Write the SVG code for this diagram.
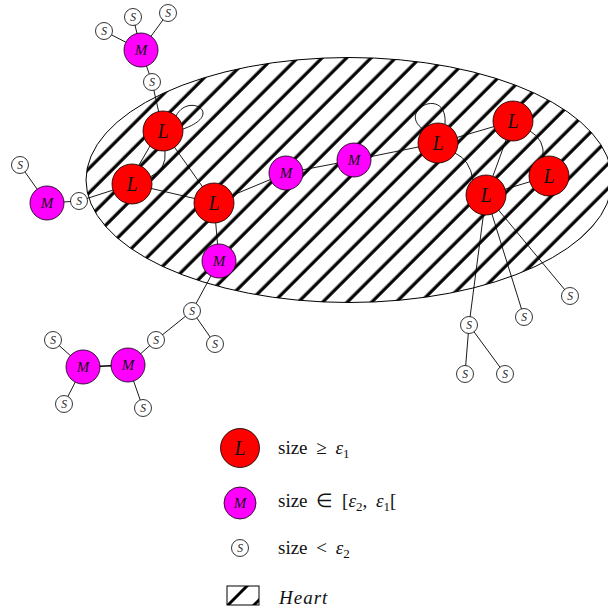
<svg xmlns="http://www.w3.org/2000/svg" width="608" height="612" viewBox="0 0 608 612">
<style>
.L{fill:#ff0000;stroke:#000;stroke-width:0.8}
.M{fill:#ff00ff;stroke:#000;stroke-width:0.8}
.S{fill:#fff;stroke:#000;stroke-width:0.8}
.e{fill:none;stroke:#000;stroke-width:0.9}
.tL{font-family:"Liberation Serif",serif;font-style:italic;font-size:20px;text-anchor:middle;fill:#111}
.tM{font-family:"Liberation Serif",serif;font-style:italic;font-size:15px;text-anchor:middle;fill:#111}
.tS{font-family:"Liberation Serif",serif;font-style:italic;font-size:11.5px;text-anchor:middle;fill:#222}
.leg{font-family:"Liberation Serif",serif;font-size:19px;fill:#111;word-spacing:4px}
</style>
<defs>
<pattern id="hatch" patternUnits="userSpaceOnUse" width="17.32" height="10" patternTransform="rotate(45)">
<rect x="7.24" y="0" width="3.2" height="10" fill="#000"/>
</pattern>
<clipPath id="boxclip"><rect x="227" y="586" width="32" height="19"/></clipPath>
</defs>
<g id="heart">
<ellipse cx="349" cy="180" rx="263" ry="122.5" fill="url(#hatch)" stroke="#000" stroke-width="1"/>
</g>
<g id="edges" class="e">
<line x1="141" y1="50" x2="104" y2="31"/>
<line x1="141" y1="50" x2="133" y2="17"/>
<line x1="141" y1="50" x2="168" y2="13"/>
<line x1="141" y1="50" x2="152" y2="82"/>
<line x1="152" y1="82" x2="163" y2="131"/>
<path d="M176,116 C188,92 226,114 183,129"/>
<line x1="150" y1="146" x2="139" y2="165"/>
<path d="M165,151 Q167,170 150,177"/>
<line x1="163" y1="131" x2="214" y2="203"/>
<line x1="132" y1="184" x2="214" y2="203"/>
<line x1="132" y1="184" x2="79" y2="201"/>
<line x1="79" y1="201" x2="47" y2="203"/>
<line x1="47" y1="203" x2="20" y2="165"/>
<line x1="214" y1="203" x2="286" y2="173"/>
<line x1="214" y1="203" x2="219" y2="261"/>
<line x1="286" y1="173" x2="354" y2="160"/>
<line x1="354" y1="160" x2="438" y2="143"/>
<path d="M424,130 C395,110 448,85 445,124"/>
<line x1="438" y1="143" x2="513" y2="121"/>
<path d="M455,153 Q470,160 473,180"/>
<line x1="513" y1="121" x2="486" y2="195"/>
<path d="M530,131 Q545,140 543,157"/>
<line x1="486" y1="195" x2="549" y2="176"/>
<line x1="486" y1="195" x2="469" y2="325"/>
<line x1="486" y1="195" x2="524" y2="317"/>
<line x1="486" y1="195" x2="570" y2="296"/>
<line x1="469" y1="325" x2="465" y2="374"/>
<line x1="469" y1="325" x2="505" y2="374"/>
<line x1="219" y1="261" x2="192" y2="311"/>
<line x1="192" y1="311" x2="215" y2="344"/>
<line x1="192" y1="311" x2="156" y2="340"/>
<line x1="156" y1="340" x2="128" y2="365"/>
<line x1="128" y1="365" x2="83" y2="367" stroke-width="1.6"/>
<line x1="128" y1="365" x2="143" y2="408"/>
<line x1="83" y1="367" x2="53" y2="340"/>
<line x1="83" y1="367" x2="64" y2="404"/>
</g>
<g id="L1"><circle class="L" cx="163" cy="131" r="20"/><text class="tL" x="163" y="138">L</text></g>
<g id="L2"><circle class="L" cx="132" cy="184" r="20"/><text class="tL" x="132" y="191">L</text></g>
<g id="L3"><circle class="L" cx="214" cy="203" r="20"/><text class="tL" x="214" y="210">L</text></g>
<g id="L4"><circle class="L" cx="438" cy="143" r="20"/><text class="tL" x="438" y="150">L</text></g>
<g id="L5"><circle class="L" cx="513" cy="121" r="20"/><text class="tL" x="513" y="128">L</text></g>
<g id="L6"><circle class="L" cx="486" cy="195" r="20"/><text class="tL" x="486" y="202">L</text></g>
<g id="L7"><circle class="L" cx="549" cy="176" r="20"/><text class="tL" x="549" y="183">L</text></g>
<g id="M1"><circle class="M" cx="141" cy="50" r="17"/><text class="tM" x="141" y="55">M</text></g>
<g id="M2"><circle class="M" cx="47" cy="203" r="17"/><text class="tM" x="47" y="208">M</text></g>
<g id="M3"><circle class="M" cx="219" cy="261" r="17"/><text class="tM" x="219" y="266">M</text></g>
<g id="M4"><circle class="M" cx="286" cy="173" r="17"/><text class="tM" x="286" y="178">M</text></g>
<g id="M5"><circle class="M" cx="354" cy="160" r="17"/><text class="tM" x="354" y="165">M</text></g>
<g id="M6"><circle class="M" cx="83" cy="367" r="17"/><text class="tM" x="83" y="372">M</text></g>
<g id="M7"><circle class="M" cx="128" cy="365" r="17"/><text class="tM" x="128" y="370">M</text></g>
<g id="S1"><circle class="S" cx="104" cy="31" r="8.5"/><text class="tS" x="104" y="35">S</text></g>
<g id="S2"><circle class="S" cx="133" cy="17" r="8.5"/><text class="tS" x="133" y="21">S</text></g>
<g id="S3"><circle class="S" cx="168" cy="13" r="8.5"/><text class="tS" x="168" y="17">S</text></g>
<g id="S4"><circle class="S" cx="152" cy="82" r="8.5"/><text class="tS" x="152" y="86">S</text></g>
<g id="S5"><circle class="S" cx="20" cy="165" r="8.5"/><text class="tS" x="20" y="169">S</text></g>
<g id="S6"><circle class="S" cx="79" cy="201" r="8.5"/><text class="tS" x="79" y="205">S</text></g>
<g id="S7"><circle class="S" cx="192" cy="311" r="8.5"/><text class="tS" x="192" y="315">S</text></g>
<g id="S8"><circle class="S" cx="215" cy="344" r="8.5"/><text class="tS" x="215" y="348">S</text></g>
<g id="S9"><circle class="S" cx="156" cy="340" r="8.5"/><text class="tS" x="156" y="344">S</text></g>
<g id="S10"><circle class="S" cx="53" cy="340" r="8.5"/><text class="tS" x="53" y="344">S</text></g>
<g id="S11"><circle class="S" cx="64" cy="404" r="8.5"/><text class="tS" x="64" y="408">S</text></g>
<g id="S12"><circle class="S" cx="143" cy="408" r="8.5"/><text class="tS" x="143" y="412">S</text></g>
<g id="S13"><circle class="S" cx="570" cy="296" r="8.5"/><text class="tS" x="570" y="300">S</text></g>
<g id="S14"><circle class="S" cx="524" cy="317" r="8.5"/><text class="tS" x="524" y="321">S</text></g>
<g id="S15"><circle class="S" cx="469" cy="325" r="8.5"/><text class="tS" x="469" y="329">S</text></g>
<g id="S16"><circle class="S" cx="465" cy="374" r="8.5"/><text class="tS" x="465" y="378">S</text></g>
<g id="S17"><circle class="S" cx="505" cy="374" r="8.5"/><text class="tS" x="505" y="378">S</text></g>
<g id="legend">
<circle class="L" cx="240" cy="448" r="19.5"/><text class="tL" x="240" y="455">L</text>
<text class="leg" x="278" y="454">size ≥ <tspan font-style="italic">ε</tspan><tspan font-size="13" dy="4">1</tspan></text>
<circle class="M" cx="240" cy="503" r="16"/><text class="tM" x="240" y="508">M</text>
<text class="leg" x="278" y="507">size ∈ [<tspan font-style="italic">ε</tspan><tspan font-size="13" dy="4">2</tspan><tspan dy="-4">, </tspan><tspan font-style="italic">ε</tspan><tspan font-size="13" dy="4">1</tspan><tspan dy="-4">[</tspan></text>
<circle class="S" cx="240" cy="548" r="8.5"/><text class="tS" x="240" y="552">S</text>
<text class="leg" x="278" y="554">size &lt; <tspan font-style="italic">ε</tspan><tspan font-size="13" dy="4">2</tspan></text>
<g clip-path="url(#boxclip)">
<line x1="224" y1="609" x2="248" y2="585" stroke="#000" stroke-width="3"/>
<line x1="250" y1="609" x2="262" y2="597" stroke="#000" stroke-width="3"/>
</g>
<rect x="227" y="586" width="32" height="19" fill="none" stroke="#000" stroke-width="1"/>
<text class="leg" x="279" y="604" font-style="italic" letter-spacing="1">Heart</text>
</g>
</svg>
